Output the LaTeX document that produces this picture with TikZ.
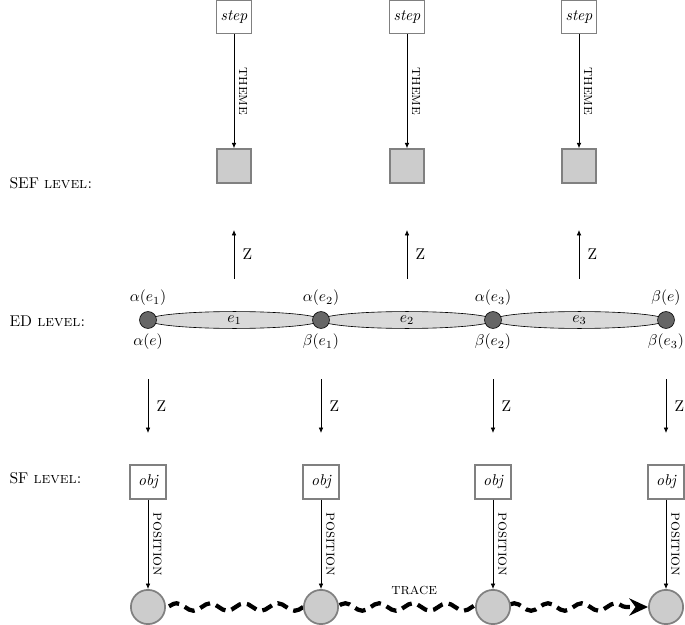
\documentclass[tikz,border=0pt]{standalone}
\usetikzlibrary{arrows.meta,shapes.geometric,decorations.pathmorphing}
\tikzset{
  stepbox/.style={draw=gray, line width=1.1pt, fill=white, minimum width=0.79cm, minimum height=0.74cm, inner sep=0pt, font=\itshape},
  slotbox/.style={draw=gray, line width=1.1pt, fill=gray!40, minimum width=0.75cm, minimum height=0.76cm, inner sep=0pt},
  objbox/.style={stepbox, minimum width=0.81cm, minimum height=0.76cm},
  vert/.style={circle, draw, fill=black!60, minimum size=0.38cm, inner sep=0pt},
  edgeell/.style={ellipse, draw, fill=gray!30, minimum width=3.89cm, minimum height=0.38cm, inner sep=0pt},
  place/.style={circle, draw=gray, line width=1.1pt, fill=gray!40, minimum size=0.77cm, inner sep=0pt},
  arr/.style={-{Latex[length=3.5pt,width=3pt]}, line width=0.5pt},
  rel/.style={midway, anchor=south, rotate=-90, font=\scshape, inner sep=3pt},
  trace/.style={line width=2.7pt, dash pattern=on 7pt off 4pt, dash phase=9pt,
    decorate, decoration={snake, amplitude=2.4pt, segment length=0.76cm, post length=12pt},
    -{Stealth[length=12pt,width=11pt,inset=4pt]}}
}
\begin{document}
\begin{tikzpicture}[x=0.0225cm, y=-0.0225cm]
      \useasboundingbox (0,0) rectangle (685,625);
      % levels
      \node[anchor=west] (sef) at (4,183) {SEF \textsc{level:}};
      \node[anchor=west] (ed) at (4,321) {ED \textsc{level:}};
      \node[anchor=west] (sf) at (4,478) {SF \textsc{level:}};
      % SEF level
      \node[stepbox] (s1) at (234,17) {step};
      \node[stepbox] (s2) at (407,17) {step};
      \node[stepbox] (s3) at (579,17) {step};
      \node[slotbox] (b1) at (234,166) {};
      \node[slotbox] (b2) at (407,166) {};
      \node[slotbox] (b3) at (579,166) {};
      \draw[arr] (s1) -- node[rel] {theme} (b1);
      \draw[arr] (s2) -- node[rel] {theme} (b2);
      \draw[arr] (s3) -- node[rel] {theme} (b3);
      % ED level
      \node[edgeell] (e1) at (234.5,320) {$e_1$};
      \node[edgeell] (e2) at (407,320) {$e_2$};
      \node[edgeell] (e3) at (579.5,320) {$e_3$};
      \node[vert, label={above:$\alpha(e_1)$}, label={below:$\alpha(e)$}] (v0) at (148,320) {};
      \node[vert, label={above:$\alpha(e_2)$}, label={below:$\beta(e_1)$}] (v1) at (321,320) {};
      \node[vert, label={above:$\alpha(e_3)$}, label={below:$\beta(e_2)$}] (v2) at (493,320) {};
      \node[vert, label={above:$\beta(e)$}, label={below:$\beta(e_3)$}] (v3) at (666,320) {};
      \coordinate (u1) at (234,279); \coordinate (t1) at (234,230);
      \coordinate (u2) at (407,279); \coordinate (t2) at (407,230);
      \coordinate (u3) at (579,279); \coordinate (t3) at (579,230);
      \draw[arr] (u1) -- node[right=2pt] {Z} (t1);
      \draw[arr] (u2) -- node[right=2pt] {Z} (t2);
      \draw[arr] (u3) -- node[right=2pt] {Z} (t3);
      % SF level
      \coordinate (d0) at (148,379); \coordinate (f0) at (148,433);
      \coordinate (d1) at (321,379); \coordinate (f1) at (321,433);
      \coordinate (d2) at (493,379); \coordinate (f2) at (493,433);
      \coordinate (d3) at (666,379); \coordinate (f3) at (666,433);
      \draw[arr] (d0) -- node[right=2pt] {Z} (f0);
      \draw[arr] (d1) -- node[right=2pt] {Z} (f1);
      \draw[arr] (d2) -- node[right=2pt] {Z} (f2);
      \draw[arr] (d3) -- node[right=2pt] {Z} (f3);
      \node[objbox] (o0) at (148,482) {obj};
      \node[objbox] (o1) at (321,482) {obj};
      \node[objbox] (o2) at (493,482) {obj};
      \node[objbox] (o3) at (666,482) {obj};
      \node[place] (p0) at (148,607) {};
      \node[place] (p3) at (666,607) {};
      \draw[trace] (p0) -- node[above=3pt, pos=0.515, font=\scshape] {trace} (p3);
      \node[place] (p1) at (321,607) {};
      \node[place] (p2) at (493,607) {};
      \draw[arr] (o0) -- node[rel] {position} (p0);
      \draw[arr] (o1) -- node[rel] {position} (p1);
      \draw[arr] (o2) -- node[rel] {position} (p2);
      \draw[arr] (o3) -- node[rel] {position} (p3);
\end{tikzpicture}
\end{document}
